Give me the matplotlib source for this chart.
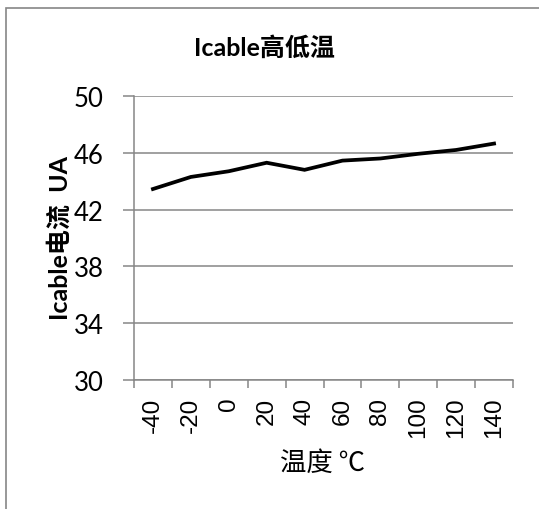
import matplotlib
matplotlib.use('Agg')
import matplotlib.pyplot as plt
from matplotlib.patches import Rectangle
from matplotlib.ticker import FixedLocator

temps = ['-40', '-20', '0', '20', '40', '60', '80', '100', '120', '140']
icable = [43.45, 44.3, 44.7, 45.3, 44.8, 45.45, 45.6, 45.93, 46.2, 46.65]
y_ticks = [30, 34, 38, 42, 46, 50]

plt.rcParams['font.family'] = ['Lato', 'Noto Sans CJK SC', 'DejaVu Sans']

fig = plt.figure(figsize=(5.39, 5.10), dpi=100)
ax = fig.add_axes([134/539, 1-381/510, (513-134)/539, (381-97)/510])

gray = '#868686'
x = list(range(len(temps)))
ax.plot(x, icable, color='black', lw=2.7, solid_joinstyle='miter')

ax.set_xlim(-0.5, len(temps)-0.5)
ax.set_ylim(30, 50)
ax.set_yticks(y_ticks)
ax.set_yticklabels([str(v) for v in y_ticks], fontsize=18.5)
ax.yaxis.grid(True, color=gray, lw=1.1)
ax.set_axisbelow(True)

ax.set_xticks(x)
ax.set_xticklabels(temps, rotation=90, fontsize=17.5, family='Liberation Sans')
ax.xaxis.set_minor_locator(FixedLocator([i-0.5 for i in range(len(temps)+1)]))
ax.tick_params(axis='x', which='major', length=0, pad=12)
ax.tick_params(axis='x', which='minor', length=6, color=gray, width=1.1)
ax.tick_params(axis='y', length=8, color=gray, width=1.1, pad=14)

for s in ['top', 'right']:
    ax.spines[s].set_visible(False)
for s in ['left', 'bottom']:
    ax.spines[s].set_color(gray)
    ax.spines[s].set_linewidth(1.1)

fig.text(264/539, 1-48/510, 'Icable高低温', ha='center', va='center',
         fontsize=18, fontweight='bold')
fig.text(60/539, 1-238/510, 'Icable电流  UA', ha='center', va='center',
         rotation=90, fontsize=18, fontweight='bold')
fig.text(322/539, 1-463/510, '温度 ℃', ha='center', va='center', fontsize=19,
         family=['Noto Sans CJK SC', 'DejaVu Sans'])

fig.patches.append(Rectangle((6/539, -0.1), 1.2, 1.1-9/510, transform=fig.transFigure,
                             fill=False, edgecolor=gray, lw=1.2, clip_on=False))

fig.savefig('out.png', dpi=100)
